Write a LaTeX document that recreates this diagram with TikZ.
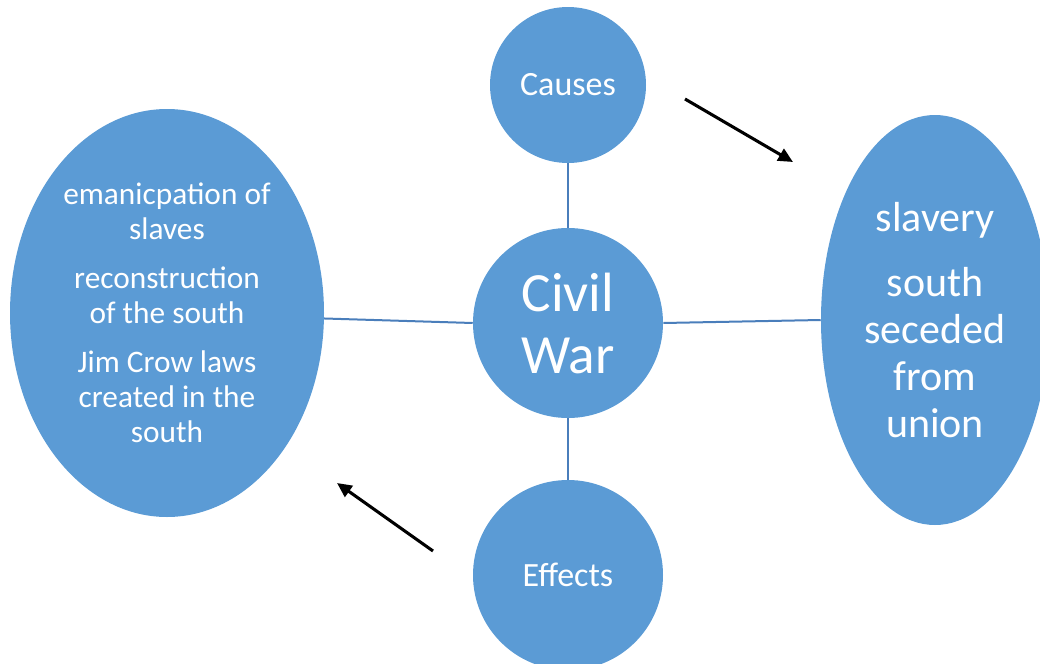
\documentclass[tikz,border=0pt]{standalone}
\usepackage{fontspec}
\setmainfont{Carlito}
\usetikzlibrary{arrows.meta,shapes.geometric}
\definecolor{bubblefill}{HTML}{5B9BD5}
\definecolor{linkline}{HTML}{4A7EBB}

\begin{document}
\begin{tikzpicture}[x=0.75pt,y=-0.75pt,
    bubble/.style={circle, fill=bubblefill, text=white, inner sep=0pt, align=center},
    oval/.style={ellipse, fill=bubblefill, text=white, inner sep=0pt, align=center},
    link/.style={draw=linkline, line width=1.5pt},
    pointer/.style={line width=2.3pt, -{Triangle[length=11pt,width=10pt]}}]
    \useasboundingbox (0,0) rectangle (1040,664);
    \clip (0,0) rectangle (1040,664);
    \node[bubble, minimum size=117pt, font=\fontsize{25.5}{30}\selectfont] (causes) at (568,85) {Causes};
    \node[bubble, minimum size=142.5pt, font=\fontsize{41.5}{46.5}\selectfont] (civil) at (568,323) {Civil\\War};
    \node[bubble, minimum size=142.5pt, font=\fontsize{25.5}{30}\selectfont] (effects) at (568,575) {Effects};
    \node[oval, minimum width=235.5pt, minimum height=306pt, font=\fontsize{23.5}{26.25}\selectfont] (effectlist) at (167,313)
        {emanicpation of\\slaves\\[10.5pt]reconstruction\\of the south\\[10.5pt]Jim Crow laws\\created in the\\south};
    \node[oval, minimum width=171pt, minimum height=307.5pt, font=\fontsize{31.5}{35.25}\selectfont] (causelist) at (935,320)
        {slavery\\[13.5pt]south\\seceded\\from\\union};
    \draw[link] (causes) -- (civil);
    \draw[link] (civil) -- (effects);
    \draw[link] (effectlist.-2) -- (civil.west);
    \draw[link] (civil.east) -- (causelist.west);
    \coordinate (p1s) at (685,99);
    \coordinate (p1e) at (793,162);
    \coordinate (p2s) at (433,551);
    \coordinate (p2e) at (337,483);
    \draw[pointer] (p1s) -- (p1e);
    \draw[pointer] (p2s) -- (p2e);
\end{tikzpicture}
\end{document}
